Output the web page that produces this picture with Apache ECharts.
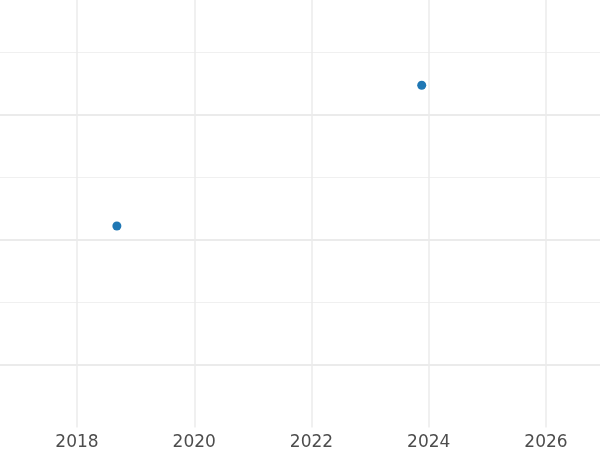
<!DOCTYPE html>
<html>
<head>
<meta charset="utf-8">
<script src="https://cdn.jsdelivr.net/npm/echarts@6/dist/echarts.min.js"></script>
<style>
  html, body { margin: 0; padding: 0; background: #fff; }
  #chart { width: 600px; height: 450px; }
</style>
</head>
<body>
<div id="chart"></div>
<script>
// data
var years = [2018.68, 2023.88]
var values = [32.2, 54.7]
var yearTicks = [2016, 2018, 2020, 2022, 2024, 2026, 2028]

var points = years.map(function (y, i) { return [y, values[i]] })

var myChart = echarts.init(document.getElementById('chart'))
myChart.setOption({
  animation: false,
  backgroundColor: '#fff',
  grid: {
    left: -40.25, right: -63.25, top: -10.5, bottom: 22.5,
    outerBoundsMode: 'none',
    containLabel: false
  },
  xAxis: {
    type: 'value',
    min: yearTicks[0],
    max: yearTicks[yearTicks.length - 1],
    interval: 2,
    axisLine: { show: false },
    axisTick: { show: false },
    axisLabel: {
      margin: 7,
      showMinLabel: false,
      showMaxLabel: false,
      fontFamily: 'DejaVu Sans',
      fontSize: 17,
      color: '#4d4d4d',
      formatter: function (v) { return String(v) }
    },
    splitLine: { show: true, lineStyle: { color: '#ebebeb', width: 1.5 } }
  },
  yAxis: [
    {
      // minor lines (and the data scale)
      type: 'value',
      min: 0, max: 70, interval: 20,
      axisLine: { show: false },
      axisTick: { show: false },
      axisLabel: { show: false },
      splitLine: { show: true, showMinLine: false, showMaxLine: false, lineStyle: { color: '#f0f0f0', width: 1 } }
    },
    {
      // major lines, counted down from the top
      type: 'value',
      inverse: true,
      min: 0, max: 70, interval: 20,
      axisLine: { show: false },
      axisTick: { show: false },
      axisLabel: { show: false },
      splitLine: { show: true, showMinLine: false, showMaxLine: false, lineStyle: { color: '#ebebeb', width: 2 } }
    }
  ],
  series: [{
    type: 'scatter',
    yAxisIndex: 0,
    symbolSize: 9,
    itemStyle: { color: '#1f77b4', opacity: 1 },
    data: points
  }]
})
</script>
</body>
</html>
